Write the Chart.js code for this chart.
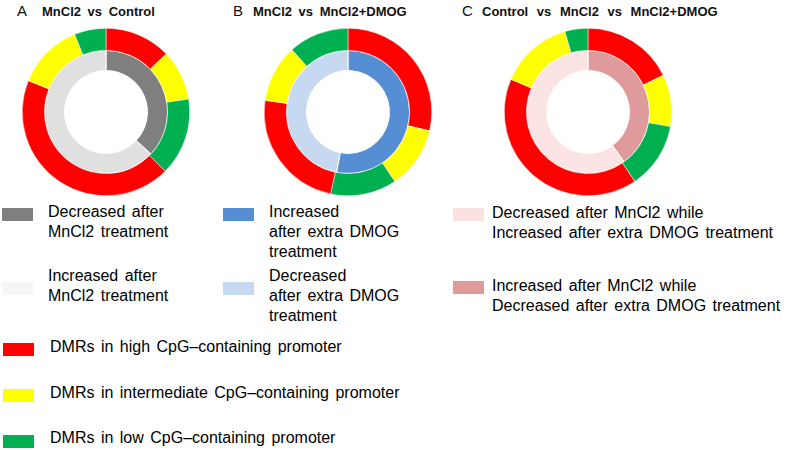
<!DOCTYPE html>
<html>
<head>
<meta charset="utf-8">
<script src="https://cdn.jsdelivr.net/npm/chart.js@4.4.1/dist/chart.umd.min.js"></script>
<style>
  body { margin: 0; background: #fff; font-family: "Liberation Sans", Arial, sans-serif; color: #000; }
  #wrap { position: relative; width: 787px; height: 450px; overflow: hidden; }
  .box { position: absolute; width: 168px; height: 168px; }
  .letter { position: absolute; font-size: 15px; color: #111; }
  .title { position: absolute; font-size: 13px; font-weight: bold; color: #111; word-spacing: 3px; white-space: nowrap; }
  .sw { position: absolute; width: 31px; height: 13px; }
  .txt { position: absolute; font-size: 16px; line-height: 20px; white-space: nowrap; word-spacing: 2px; }
</style>
</head>
<body>
<div id="wrap">
  <div class="letter" style="left:17px;top:2px">A</div>
  <div class="title" style="left:42px;top:4px">MnCl2 vs Control</div>
  <div class="letter" style="left:233px;top:2px">B</div>
  <div class="title" style="left:253px;top:4px">MnCl2 vs MnCl2+DMOG</div>
  <div class="letter" style="left:462px;top:2px">C</div>
  <div class="title" style="left:482px;top:4px;word-spacing:5px">Control vs MnCl2 vs MnCl2+DMOG</div>

  <div class="box" style="left:22px;top:28px"><canvas id="chartA"></canvas></div>
  <div class="box" style="left:264px;top:28px"><canvas id="chartB"></canvas></div>
  <div class="box" style="left:504px;top:28px"><canvas id="chartC"></canvas></div>

  <div id="legend"></div>
</div>
<script>
// share of each ring segment, clockwise from 12 o'clock (in degrees)
const promoterTypes = ['high CpG', 'intermediate CpG', 'low CpG', 'high CpG', 'intermediate CpG', 'low CpG'];
const outerA = [46, 35, 54, 157, 46, 22];
const outerB = [103, 43, 46, 86, 40, 42];
const outerC = [64, 36, 46, 147, 51, 16];

// inner ring shares (percent)
const innerA = [37, 63];
const innerB = [53, 47];
const innerC = [40, 60];

const labelsA = ['Decreased after MnCl2 treatment', 'Increased after MnCl2 treatment'];
const labelsB = ['Increased after extra DMOG treatment', 'Decreased after extra DMOG treatment'];
const labelsC = ['Decreased after MnCl2 while Increased after extra DMOG treatment', 'Increased after MnCl2 while Decreased after extra DMOG treatment'];

const promoterLabels = ['DMRs in high CpG\u2013containing  promoter', 'DMRs in intermediate CpG\u2013containing  promoter', 'DMRs in low CpG\u2013containing  promoter'];

const RED = '#ff0000', YELLOW = '#ffff00', GREEN = '#00b050';
const outerColors = [RED, YELLOW, GREEN, RED, YELLOW, GREEN];

function donut(id, outer, inner, innerLabels, innerColors) {
    const ctx = document.getElementById(id).getContext('2d');
    return new Chart(ctx, {
        type: 'doughnut',
        data: {
            labels: promoterTypes,
            datasets: [
                { data: outer, backgroundColor: outerColors, borderColor: '#fff', borderWidth: 0.5, weight: 22 },
                { data: inner, backgroundColor: innerColors, borderColor: '#fff', borderWidth: 1, weight: 20, labels: innerLabels }
            ]
        },
        options: {
            responsive: true,
            maintainAspectRatio: false,
            animation: false,
            cutout: '49.5%',
            layout: { padding: 0 },
            plugins: { legend: { display: false }, tooltip: { enabled: false } }
        }
    });
}

donut('chartA', outerA, innerA, labelsA, ['#7f7f7f', '#e0e0e0']);
donut('chartB', outerB, innerB, labelsB, ['#558ed5', '#c6d9f1']);
donut('chartC', outerC, innerC, labelsC, ['#df9b9b', '#fce4e4']);

// legend entries
function item(x, y, color, tx, ty, lines) {
    const leg = document.getElementById('legend');
    leg.innerHTML += `<div class="sw" style="left:${x}px;top:${y}px;background:${color}"></div>` +
        `<div class="txt" style="left:${tx}px;top:${ty}px">${lines.join('<br>')}</div>`;
}

item(2, 208, '#7f7f7f', 48, 202, ['Decreased  after', 'MnCl2 treatment']);
item(2, 282, '#f6f6f6', 48, 266, ['Increased  after', 'MnCl2 treatment']);
item(223, 208, '#558ed5', 269, 202, ['Increased', 'after  extra DMOG', 'treatment']);
item(223, 282, '#c6d9f1', 269, 266, ['Decreased', 'after  extra DMOG', 'treatment']);
item(453, 208, '#fce1e1', 492, 203, ['Decreased  after MnCl2 while', 'Increased  after  extra DMOG treatment']);
item(453, 281, '#df9b9b', 492, 276, ['Increased  after MnCl2 while', 'Decreased  after  extra DMOG treatment']);
item(3, 343, RED, 50, 337, [promoterLabels[0]]);
item(3, 389, YELLOW, 50, 383, [promoterLabels[1]]);
item(3, 435, GREEN, 50, 428, [promoterLabels[2]]);
</script>
</body>
</html>
